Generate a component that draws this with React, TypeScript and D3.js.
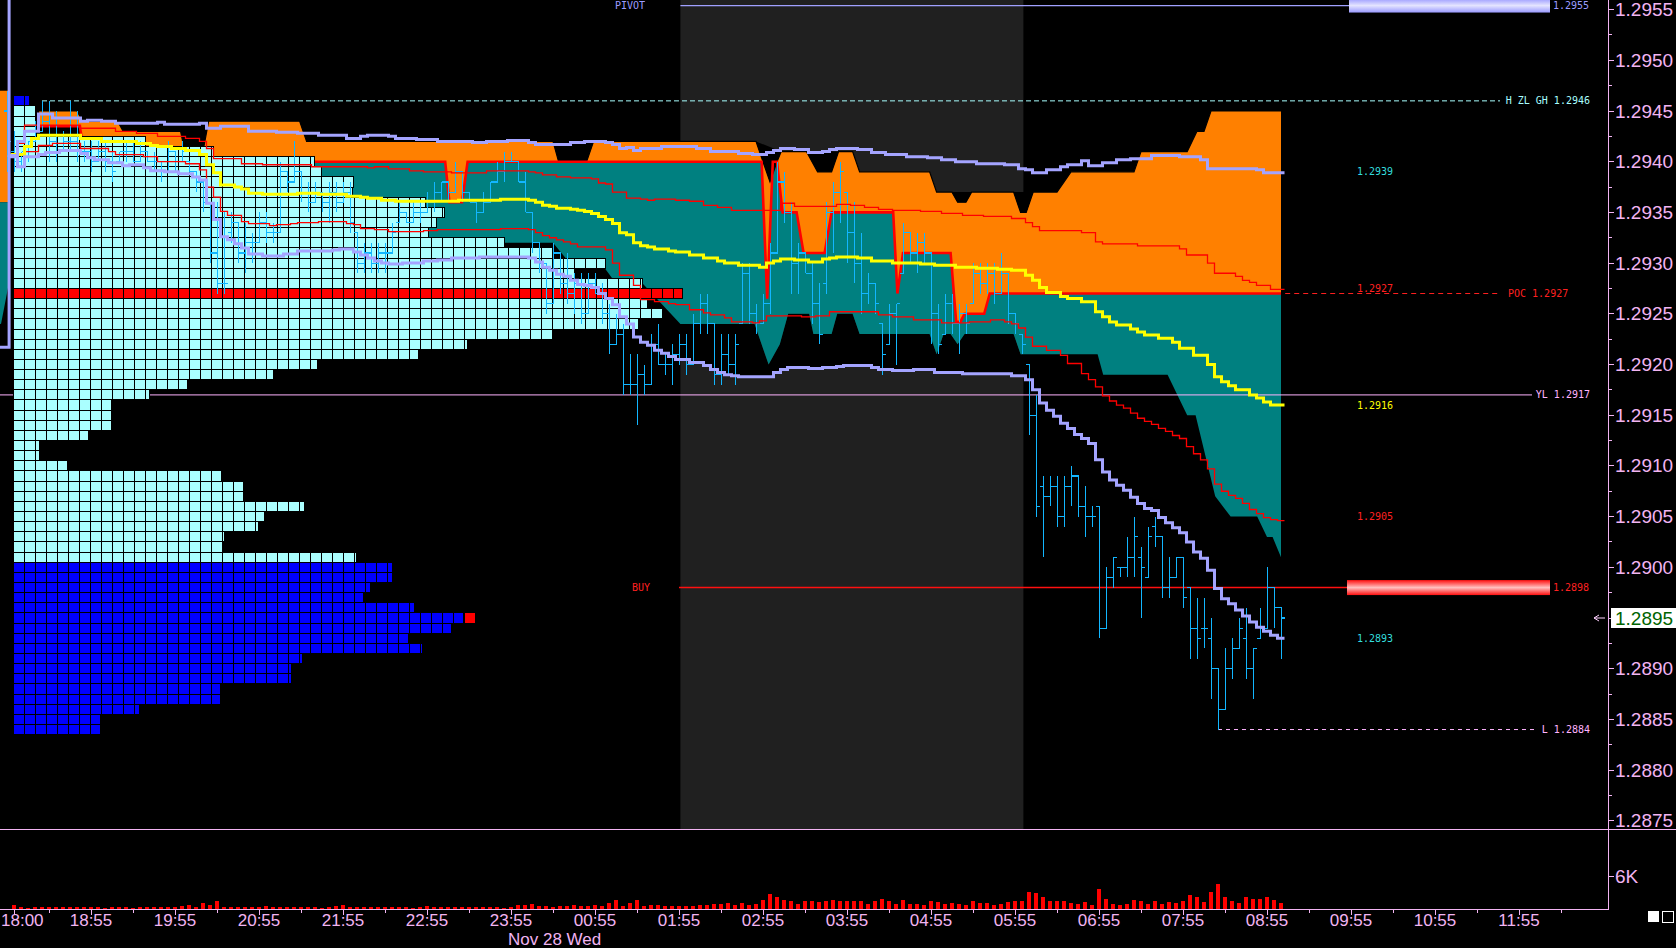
import * as d3 from "d3";

type Pt = [string, number];
type Bar = [string, number, number, number, number];

// ---------- values ----------
const priceTicks = ["1.2875", "1.2880", "1.2885", "1.2890", "1.2895", "1.2900", "1.2905", "1.2910", "1.2915",
  "1.2920", "1.2925", "1.2930", "1.2935", "1.2940", "1.2945", "1.2950", "1.2955"];
const timeTicks = ["18:00", "18:55", "19:55", "20:55", "21:55", "22:55", "23:55", "00:55", "01:55", "02:55",
  "03:55", "04:55", "05:55", "06:55", "07:55", "08:55", "09:55", "10:55", "11:55"];
const dateLabel = "Nov 28 Wed";
const session: [string, string] = ["01:56", "06:01"];

// TPO profile, one row per 0.0001 from 1.2946 down to 1.2884
const profileTop = 1.2946;
const profileTpo = [1.5, 2, 2, 2, 12, 18.2, 27.4, 28, 30.9, 30.8, 37.5, 39.2, 38.5, 37.7, 44.6, 49, 53.8, 51,
  57.2, 60.8, 57.6, 59, 56.8, 49.1, 41.3, 36.8, 27.6, 23.6, 15.8, 12.4, 8.9, 8.9, 8.9, 6.8, 2.4, 2.4, 4.9,
  18.9, 20.9, 20.9, 26.5, 22.8, 22.3, 19.2, 19.1, 31.2, 34.5, 34.5, 32.5, 31.8, 36.5, 40.9, 39.8, 35.9, 37.2,
  26.3, 25.3, 25.3, 18.8, 18.8, 11.5, 7.9, 7.9];
const profileBlueAtOrAbove = 1.2946;
const profileBlueAtOrBelow = 1.29;
const profilePoc = 1.2927;
const lastPrice = 1.2895;

// prior session stub at the left edge: [vah, poc, val]
const priorSpan: [string, string] = ["17:50", "17:57"];
const priorBand = [1.2947, 1.2936, 1.2924];

// developing value area
const vahPts: Pt[] = [["18:18", 1.2945], ["18:45", 1.2945], ["18:49", 1.2944], ["19:14", 1.2944], ["19:18", 1.2943],
  ["19:59", 1.2943], ["20:02", 1.2941], ["20:15", 1.2941], ["20:19", 1.2944], ["21:24", 1.2944], ["21:29", 1.2942],
  ["00:25", 1.2942], ["00:29", 1.294], ["00:49", 1.294], ["00:54", 1.2942], ["02:50", 1.2942], ["03:00", 1.2938],
  ["03:05", 1.294], ["03:08", 1.2941], ["03:26", 1.2941], ["03:34", 1.2939], ["03:44", 1.2939], ["03:49", 1.2941],
  ["03:59", 1.2941], ["04:04", 1.2939], ["04:54", 1.2939], ["04:59", 1.2937], ["05:10", 1.2937], ["05:14", 1.2936],
  ["05:20", 1.2936], ["05:24", 1.2937], ["05:54", 1.2937], ["05:59", 1.2935], ["06:03", 1.2935], ["06:08", 1.2937],
  ["06:25", 1.2937], ["06:35", 1.2939], ["07:20", 1.2939], ["07:25", 1.2941], ["07:58", 1.2941], ["08:05", 1.2943],
  ["08:10", 1.2943], ["08:15", 1.2945], ["09:05", 1.2945]];
const pocPts: Pt[] = [["18:18", 1.29435], ["18:47", 1.29435], ["18:50", 1.2941], ["20:15", 1.2941], ["20:19", 1.294],
  ["23:08", 1.294], ["23:11", 1.2936], ["23:20", 1.2936], ["23:24", 1.294], ["02:54", 1.294], ["02:58", 1.29265],
  ["03:02", 1.294], ["03:05", 1.294], ["03:09", 1.2935], ["03:19", 1.2935], ["03:24", 1.2931], ["03:39", 1.2931],
  ["03:44", 1.2935], ["04:28", 1.2935], ["04:31", 1.2927], ["04:35", 1.2931], ["05:09", 1.2931], ["05:13", 1.29242],
  ["05:16", 1.29242], ["05:19", 1.2925], ["05:33", 1.2925], ["05:37", 1.2927], ["09:05", 1.2927]];
const valPts: Pt[] = [["18:18", 1.29435], ["18:47", 1.29435], ["18:50", 1.2941], ["20:15", 1.2941], ["20:20", 1.2936],
  ["21:00", 1.2933], ["21:30", 1.2932], ["00:25", 1.2932], ["00:40", 1.29295], ["01:02", 1.29295], ["01:10", 1.2928],
  ["01:29", 1.2928], ["01:56", 1.2924], ["02:49", 1.2924], ["02:59", 1.292], ["03:07", 1.2922], ["03:13", 1.2925],
  ["03:28", 1.2925], ["03:31", 1.2923], ["03:44", 1.2923], ["03:48", 1.2925], ["03:59", 1.2925], ["04:04", 1.2923],
  ["04:54", 1.2923], ["04:59", 1.2921], ["05:04", 1.2923], ["05:09", 1.2923], ["05:14", 1.2922], ["05:19", 1.2923],
  ["05:54", 1.2923], ["05:59", 1.2921], ["06:54", 1.2921], ["06:58", 1.2919], ["07:44", 1.2919], ["07:58", 1.2915],
  ["08:04", 1.2915], ["08:18", 1.2907], ["08:29", 1.2905], ["08:48", 1.2905], ["08:55", 1.2903], ["08:59", 1.2903],
  ["09:05", 1.2901]];
// dips in the VAH that return (drawn black)
const vahDips: [string, string][] = [["02:50", "03:08"], ["03:26", "03:49"], ["05:10", "05:24"], ["05:54", "06:08"]];

// VWAP and bands (stepped, value per bar)
const upperBand2: Pt[] = [["17:50", 1.296], ["17:59", 1.29406], ["18:05", 1.2942], ["18:10", 1.2943], ["18:20", 1.29447],
  ["18:30", 1.29443], ["18:50", 1.2944], ["18:55", 1.29441], ["19:05", 1.2944], ["19:15", 1.29438], ["19:45", 1.29439],
  ["19:50", 1.29437], ["20:15", 1.29438], ["20:20", 1.29433], ["20:30", 1.29435], ["20:50", 1.2943], ["21:10", 1.29429],
  ["21:25", 1.29428], ["21:40", 1.29426], ["22:00", 1.29423], ["22:10", 1.29425], ["22:15", 1.29426], ["22:30", 1.29425],
  ["22:35", 1.29423], ["22:50", 1.29422], ["23:05", 1.2942], ["23:30", 1.29419], ["23:40", 1.2942], ["23:55", 1.29421],
  ["00:10", 1.29419], ["00:15", 1.29417], ["00:40", 1.29419], ["00:50", 1.2942], ["01:05", 1.29419], ["01:10", 1.29417],
  ["01:15", 1.29413], ["01:20", 1.29414], ["01:25", 1.29411], ["01:30", 1.29413], ["01:45", 1.29415], ["02:10", 1.29413],
  ["02:20", 1.2941], ["02:40", 1.29408], ["02:50", 1.29407], ["03:00", 1.29409], ["03:05", 1.29411], ["03:10", 1.29413],
  ["03:20", 1.29412], ["03:30", 1.29409], ["03:40", 1.2941], ["03:45", 1.29412], ["03:50", 1.29413], ["04:05", 1.29412],
  ["04:15", 1.29409], ["04:25", 1.29407], ["04:40", 1.29405], ["04:55", 1.29404], ["05:05", 1.29402], ["05:15", 1.294],
  ["05:30", 1.29398], ["05:50", 1.29397], ["06:00", 1.29393], ["06:05", 1.29392], ["06:10", 1.29389], ["06:20", 1.29392],
  ["06:30", 1.29395], ["06:35", 1.29397], ["06:45", 1.29401], ["06:50", 1.29396], ["07:00", 1.29399], ["07:10", 1.29402],
  ["07:20", 1.29403], ["07:35", 1.29406], ["07:55", 1.29405], ["08:10", 1.29402], ["08:15", 1.29393], ["08:35", 1.29393],
  ["08:50", 1.29392], ["08:55", 1.29389], ["09:10", 1.29389]];
const lowerBand2: Pt[] = [["17:50", 1.29217], ["17:59", 1.29405], ["18:05", 1.29395], ["18:10", 1.29405], ["18:20", 1.29407],
  ["18:25", 1.29409], ["18:35", 1.29411], ["18:50", 1.29408], ["18:55", 1.29404], ["19:00", 1.29402], ["19:10", 1.29399],
  ["19:20", 1.29396], ["19:25", 1.29397], ["19:35", 1.29394], ["19:40", 1.29391], ["19:50", 1.2939], ["20:00", 1.29388],
  ["20:10", 1.29385], ["20:15", 1.29382], ["20:20", 1.29359], ["20:25", 1.29343], ["20:30", 1.29326], ["20:35", 1.29323],
  ["20:40", 1.29319], ["20:45", 1.29315], ["20:50", 1.29309], ["21:00", 1.29307], ["21:15", 1.29309], ["21:25", 1.29312],
  ["21:50", 1.29313], ["21:55", 1.29314], ["22:05", 1.29311], ["22:10", 1.29308], ["22:15", 1.29305], ["22:20", 1.29302],
  ["22:25", 1.293], ["22:30", 1.29299], ["22:40", 1.293], ["22:55", 1.29302], ["23:05", 1.29303], ["23:15", 1.29305],
  ["23:35", 1.29306], ["00:10", 1.29305], ["00:15", 1.29301], ["00:20", 1.29296], ["00:25", 1.29293], ["00:30", 1.29289],
  ["00:35", 1.29287], ["00:40", 1.29283], ["00:45", 1.29279], ["00:50", 1.29278], ["00:55", 1.29276], ["01:00", 1.2927],
  ["01:05", 1.29265], ["01:10", 1.29259], ["01:15", 1.29247], ["01:20", 1.2924], ["01:25", 1.29227], ["01:30", 1.29222],
  ["01:35", 1.29219], ["01:40", 1.29214], ["01:45", 1.29211], ["01:50", 1.29208], ["01:55", 1.29205], ["02:05", 1.29202],
  ["02:15", 1.29199], ["02:20", 1.29195], ["02:25", 1.29192], ["02:30", 1.2919], ["02:35", 1.29189], ["02:40", 1.29188],
  ["03:05", 1.29192], ["03:10", 1.29195], ["03:15", 1.29197], ["03:30", 1.29196], ["03:40", 1.29197], ["03:50", 1.29198],
  ["03:55", 1.29199], ["04:15", 1.29197], ["04:20", 1.29195], ["04:30", 1.29194], ["04:45", 1.29195], ["05:00", 1.29192],
  ["05:20", 1.29191], ["05:55", 1.29189], ["06:05", 1.29185], ["06:10", 1.29175], ["06:15", 1.29162], ["06:20", 1.29155],
  ["06:25", 1.29149], ["06:30", 1.29142], ["06:35", 1.29137], ["06:40", 1.29131], ["06:45", 1.29127], ["06:50", 1.29122],
  ["06:55", 1.29106], ["07:00", 1.29094], ["07:05", 1.29086], ["07:10", 1.29081], ["07:15", 1.29076], ["07:20", 1.29069],
  ["07:25", 1.29063], ["07:30", 1.29058], ["07:35", 1.29056], ["07:40", 1.29049], ["07:45", 1.29044], ["07:50", 1.29039],
  ["07:55", 1.29034], ["08:00", 1.29025], ["08:05", 1.29015], ["08:10", 1.29009], ["08:15", 1.28997], ["08:20", 1.28979],
  ["08:25", 1.28969], ["08:30", 1.28964], ["08:35", 1.28958], ["08:40", 1.28952], ["08:45", 1.28946], ["08:50", 1.28941],
  ["08:55", 1.28937], ["09:00", 1.28933], ["09:05", 1.2893], ["09:10", 1.2893]];
const upperBand1: Pt[] = [["18:05", 1.29418], ["18:10", 1.29436], ["18:50", 1.29433], ["19:15", 1.2943], ["19:30", 1.29428],
  ["19:45", 1.29425], ["20:05", 1.29423], ["20:15", 1.2942], ["20:20", 1.29413], ["20:25", 1.29403], ["20:45", 1.29398],
  ["21:00", 1.29397], ["21:35", 1.29395], ["22:15", 1.29394], ["22:20", 1.29395], ["22:30", 1.29393], ["22:45", 1.29391],
  ["22:55", 1.2939], ["23:15", 1.29389], ["23:40", 1.29391], ["00:10", 1.2939], ["00:15", 1.29389], ["00:20", 1.29387],
  ["00:30", 1.29385], ["00:40", 1.29384], ["00:55", 1.29383], ["01:00", 1.29379], ["01:05", 1.29378], ["01:10", 1.2937],
  ["01:20", 1.29364], ["01:30", 1.29363], ["01:35", 1.29362], ["01:40", 1.29363], ["01:55", 1.29362], ["02:05", 1.29361],
  ["02:15", 1.29357], ["02:25", 1.29355], ["02:35", 1.29352], ["03:10", 1.29359], ["03:20", 1.29356], ["03:50", 1.29358],
  ["04:00", 1.29357], ["04:10", 1.29355], ["04:20", 1.29353], ["04:30", 1.29352], ["04:50", 1.29351], ["05:05", 1.29349],
  ["05:20", 1.29347], ["05:35", 1.29346], ["05:55", 1.29344], ["06:05", 1.2934], ["06:10", 1.29336], ["06:15", 1.29332],
  ["06:45", 1.2933], ["06:55", 1.29321], ["07:00", 1.29319], ["07:25", 1.29317], ["07:55", 1.29314], ["08:00", 1.29308],
  ["08:15", 1.293], ["08:20", 1.2929], ["08:35", 1.29287], ["08:40", 1.29283], ["08:45", 1.29281], ["08:50", 1.29278],
  ["09:00", 1.29274], ["09:10", 1.29274]];
const lowerBand1: Pt[] = [["18:10", 1.2941], ["18:20", 1.29416], ["18:30", 1.29418], ["18:50", 1.29413], ["19:10", 1.2941],
  ["19:15", 1.29407], ["19:35", 1.29405], ["19:45", 1.294], ["20:05", 1.29398], ["20:15", 1.29392], ["20:20", 1.29375],
  ["20:25", 1.29365], ["20:30", 1.29351], ["20:35", 1.29347], ["20:45", 1.29341], ["20:50", 1.29339], ["21:05", 1.29337],
  ["21:10", 1.29338], ["21:20", 1.29339], ["21:25", 1.2934], ["21:40", 1.29341], ["22:00", 1.29339], ["22:05", 1.29338],
  ["22:10", 1.29334], ["22:20", 1.29333], ["22:30", 1.29331], ["22:55", 1.29332], ["23:05", 1.29333], ["23:50", 1.29334],
  ["00:10", 1.29333], ["00:15", 1.2933], ["00:20", 1.29327], ["00:25", 1.29325], ["00:30", 1.29323], ["00:35", 1.29321],
  ["00:40", 1.29319], ["00:45", 1.29316], ["01:05", 1.29313], ["01:10", 1.293], ["01:15", 1.29288], ["01:25", 1.29278],
  ["01:30", 1.29264], ["01:40", 1.29262], ["01:50", 1.2926], ["01:55", 1.29259], ["02:05", 1.29254], ["02:15", 1.29251],
  ["02:20", 1.29249], ["02:30", 1.29246], ["02:35", 1.29242], ["02:50", 1.29241], ["02:55", 1.29243], ["03:00", 1.29248],
  ["03:25", 1.29247], ["03:35", 1.29248], ["03:45", 1.29252], ["04:20", 1.29249], ["04:30", 1.29247], ["04:45", 1.29244],
  ["05:05", 1.29241], ["05:25", 1.29242], ["05:40", 1.29244], ["05:50", 1.29242], ["05:55", 1.2924], ["06:00", 1.29236],
  ["06:05", 1.29227], ["06:10", 1.29218], ["06:20", 1.29214], ["06:30", 1.29209], ["06:35", 1.29201], ["06:45", 1.29191],
  ["06:50", 1.29185], ["06:55", 1.29178], ["07:00", 1.29169], ["07:05", 1.29164], ["07:10", 1.2916], ["07:15", 1.29157],
  ["07:20", 1.29152], ["07:25", 1.29147], ["07:30", 1.29144], ["07:35", 1.29141], ["07:40", 1.29137], ["07:45", 1.29134],
  ["07:50", 1.2913], ["07:55", 1.29127], ["08:00", 1.29119], ["08:05", 1.29112], ["08:10", 1.29106], ["08:15", 1.29097],
  ["08:20", 1.29082], ["08:25", 1.29075], ["08:30", 1.29071], ["08:35", 1.29068], ["08:40", 1.29063], ["08:45", 1.29057],
  ["08:50", 1.29053], ["08:55", 1.29049], ["09:00", 1.29047], ["09:05", 1.29046], ["09:10", 1.29046]];
const vwap: Pt[] = [["18:00", 1.29407], ["18:10", 1.29415], ["18:15", 1.29423], ["18:20", 1.29426], ["18:50", 1.29423],
  ["19:05", 1.2942], ["19:30", 1.29418], ["19:40", 1.29416], ["19:45", 1.29415], ["19:55", 1.29413], ["20:05", 1.29411],
  ["20:15", 1.29407], ["20:20", 1.29397], ["20:25", 1.29389], ["20:30", 1.29377], ["20:40", 1.29375], ["20:45", 1.29373],
  ["20:50", 1.29369], ["21:00", 1.29368], ["21:25", 1.29369], ["21:40", 1.29368], ["22:00", 1.29366], ["22:10", 1.29365],
  ["22:15", 1.29364], ["22:25", 1.29362], ["22:35", 1.29361], ["23:20", 1.29362], ["23:50", 1.29363], ["00:10", 1.29362],
  ["00:15", 1.2936], ["00:20", 1.29357], ["00:25", 1.29356], ["00:30", 1.29354], ["00:40", 1.29353], ["00:45", 1.29352],
  ["00:50", 1.29351], ["00:55", 1.29349], ["01:00", 1.29346], ["01:05", 1.29343], ["01:10", 1.29339], ["01:15", 1.2933],
  ["01:20", 1.29328], ["01:25", 1.2932], ["01:30", 1.29317], ["01:35", 1.29316], ["01:40", 1.29314], ["01:50", 1.29312],
  ["01:55", 1.29311], ["02:05", 1.29308], ["02:15", 1.29305], ["02:25", 1.29302], ["02:30", 1.293], ["02:40", 1.29298],
  ["02:55", 1.29296], ["03:00", 1.293], ["03:05", 1.29302], ["03:10", 1.29304], ["03:20", 1.29303], ["03:30", 1.29301],
  ["03:40", 1.29304], ["03:45", 1.29305], ["03:50", 1.29306], ["04:05", 1.29305], ["04:15", 1.29302], ["04:30", 1.293],
  ["04:50", 1.29299], ["05:00", 1.29298], ["05:15", 1.29296], ["05:30", 1.29295], ["05:45", 1.29294], ["05:55", 1.29293],
  ["06:05", 1.29288], ["06:10", 1.29283], ["06:15", 1.29276], ["06:20", 1.29271], ["06:30", 1.29267], ["06:35", 1.29265],
  ["06:45", 1.29262], ["06:55", 1.29252], ["07:00", 1.29247], ["07:05", 1.29242], ["07:10", 1.29239], ["07:20", 1.29235],
  ["07:25", 1.29232], ["07:30", 1.29229], ["07:40", 1.29226], ["07:50", 1.29222], ["07:55", 1.29216], ["08:05", 1.29209],
  ["08:15", 1.292], ["08:20", 1.29188], ["08:25", 1.29183], ["08:30", 1.29179], ["08:35", 1.29175], ["08:45", 1.2917],
  ["08:50", 1.29167], ["08:55", 1.29163], ["09:00", 1.2916], ["09:10", 1.2916]];

// 5-minute bars: time, open, high, low, close
const ohlc: Bar[] = [
  ["17:55", 1.2945, 1.2947, 1.2939, 1.2942], ["18:00", 1.2941, 1.2943, 1.2939, 1.294], ["18:05", 1.294, 1.2941, 1.2939, 1.2941],
  ["18:10", 1.2941, 1.2942, 1.294, 1.2942], ["18:15", 1.2942, 1.2944, 1.2942, 1.2943], ["18:20", 1.2943, 1.2946, 1.2943, 1.2944],
  ["18:25", 1.2944, 1.2946, 1.294, 1.2942], ["18:30", 1.2942, 1.2945, 1.294, 1.2941], ["18:35", 1.2941, 1.2943, 1.2941, 1.2942],
  ["18:40", 1.2942, 1.2946, 1.2941, 1.2942], ["18:45", 1.2942, 1.2945, 1.294, 1.2941], ["18:50", 1.2941, 1.2942, 1.294, 1.2941],
  ["18:55", 1.2941, 1.2942, 1.2939, 1.294], ["19:00", 1.294, 1.2942, 1.294, 1.2941], ["19:05", 1.2941, 1.2942, 1.2939, 1.294],
  ["19:10", 1.294, 1.2941, 1.2938, 1.2939], ["19:15", 1.294, 1.2941, 1.294, 1.2941], ["19:20", 1.2941, 1.2942, 1.294, 1.2941],
  ["19:25", 1.2941, 1.2942, 1.294, 1.294], ["19:30", 1.294, 1.2942, 1.294, 1.2941], ["19:35", 1.2941, 1.2941, 1.294, 1.294],
  ["19:40", 1.294, 1.2941, 1.2939, 1.294], ["19:45", 1.294, 1.294, 1.2938, 1.2939], ["19:50", 1.2939, 1.2942, 1.2939, 1.2941],
  ["19:55", 1.2941, 1.2941, 1.2939, 1.294], ["20:00", 1.294, 1.2942, 1.294, 1.2941], ["20:05", 1.294, 1.294, 1.2939, 1.2939],
  ["20:10", 1.2939, 1.2939, 1.2937, 1.2938], ["20:15", 1.2938, 1.2938, 1.2935, 1.2936], ["20:20", 1.2936, 1.2936, 1.293, 1.2931],
  ["20:25", 1.2931, 1.2936, 1.2927, 1.2928], ["20:30", 1.2928, 1.2935, 1.2927, 1.2928], ["20:35", 1.2933, 1.2935, 1.2932, 1.2934],
  ["20:40", 1.2934, 1.2934, 1.293, 1.2931], ["20:45", 1.2931, 1.2934, 1.2929, 1.2932], ["20:50", 1.2932, 1.2933, 1.293, 1.2932],
  ["20:55", 1.2932, 1.2935, 1.2932, 1.2934], ["21:00", 1.2934, 1.2935, 1.2932, 1.2933], ["21:05", 1.2933, 1.2934, 1.2932, 1.2933],
  ["21:10", 1.2933, 1.294, 1.2933, 1.2939], ["21:15", 1.2939, 1.2939, 1.2937, 1.2938], ["21:20", 1.2938, 1.2942, 1.2938, 1.2939],
  ["21:25", 1.2939, 1.2939, 1.2936, 1.2937], ["21:30", 1.2937, 1.2938, 1.2935, 1.2936], ["21:35", 1.2936, 1.2938, 1.2936, 1.2937],
  ["21:40", 1.2937, 1.2937, 1.2935, 1.2936], ["21:45", 1.2936, 1.2938, 1.2934, 1.2937], ["21:50", 1.2937, 1.2938, 1.2935, 1.2936],
  ["21:55", 1.2936, 1.2938, 1.2936, 1.2937], ["22:00", 1.2937, 1.2938, 1.2933, 1.2934], ["22:05", 1.2933, 1.2933, 1.2929, 1.293],
  ["22:10", 1.293, 1.2932, 1.2929, 1.2931], ["22:15", 1.2931, 1.2932, 1.2929, 1.293], ["22:20", 1.293, 1.2932, 1.2929, 1.2931],
  ["22:25", 1.2931, 1.2932, 1.2929, 1.2931], ["22:30", 1.2931, 1.2934, 1.2931, 1.2933], ["22:35", 1.2934, 1.2936, 1.2934, 1.2935],
  ["22:40", 1.2935, 1.2935, 1.2934, 1.2934], ["22:45", 1.2934, 1.2936, 1.2934, 1.2935], ["22:50", 1.2935, 1.2936, 1.2934, 1.2935],
  ["22:55", 1.2935, 1.2937, 1.2935, 1.2936], ["23:00", 1.2936, 1.2938, 1.2935, 1.2937], ["23:05", 1.2937, 1.2938, 1.2936, 1.2938],
  ["23:10", 1.2938, 1.2938, 1.2936, 1.2937], ["23:15", 1.2937, 1.294, 1.2937, 1.2939], ["23:20", 1.2939, 1.2939, 1.2936, 1.2937],
  ["23:25", 1.2937, 1.2937, 1.2936, 1.2936], ["23:30", 1.2936, 1.2936, 1.2934, 1.2935], ["23:35", 1.2935, 1.2937, 1.2935, 1.2936],
  ["23:40", 1.2936, 1.2938, 1.2936, 1.2938], ["23:45", 1.2938, 1.294, 1.2938, 1.2939], ["23:50", 1.2939, 1.2941, 1.2938, 1.294],
  ["23:55", 1.294, 1.2941, 1.294, 1.294], ["00:00", 1.294, 1.294, 1.2938, 1.2938], ["00:05", 1.2938, 1.2939, 1.2935, 1.2935],
  ["00:10", 1.2935, 1.2935, 1.2931, 1.2932], ["00:15", 1.2932, 1.2932, 1.2929, 1.293], ["00:20", 1.293, 1.293, 1.2925, 1.2926],
  ["00:25", 1.2926, 1.2932, 1.2926, 1.2931], ["00:30", 1.2931, 1.2931, 1.2927, 1.2928], ["00:35", 1.2928, 1.2931, 1.2926, 1.2927],
  ["00:40", 1.2927, 1.2929, 1.2925, 1.2928], ["00:45", 1.2928, 1.2929, 1.2924, 1.2925], ["00:50", 1.2925, 1.2929, 1.2925, 1.2928],
  ["00:55", 1.2928, 1.2929, 1.2927, 1.2927], ["01:00", 1.2927, 1.2928, 1.2924, 1.2925], ["01:05", 1.2925, 1.2926, 1.2921, 1.2922],
  ["01:10", 1.2922, 1.2925, 1.2922, 1.2923], ["01:15", 1.2923, 1.2924, 1.2917, 1.2918], ["01:20", 1.2918, 1.2921, 1.2917, 1.2918],
  ["01:25", 1.2918, 1.2921, 1.2914, 1.2919], ["01:30", 1.2919, 1.292, 1.2917, 1.2918], ["01:35", 1.2918, 1.2923, 1.2918, 1.2922],
  ["01:40", 1.2922, 1.2924, 1.292, 1.292], ["01:45", 1.292, 1.2921, 1.2919, 1.292], ["01:50", 1.292, 1.2922, 1.2918, 1.2921],
  ["01:55", 1.2921, 1.2923, 1.292, 1.2922], ["02:00", 1.2922, 1.2923, 1.2919, 1.292], ["02:05", 1.292, 1.2925, 1.292, 1.2924],
  ["02:10", 1.2924, 1.2927, 1.2923, 1.2926], ["02:15", 1.2926, 1.2927, 1.2923, 1.2924], ["02:20", 1.2924, 1.2924, 1.2918, 1.2919],
  ["02:25", 1.2919, 1.2923, 1.2918, 1.2921], ["02:30", 1.2921, 1.2923, 1.2919, 1.292], ["02:35", 1.292, 1.2923, 1.2918, 1.2922],
  ["02:40", 1.2924, 1.293, 1.2924, 1.2929], ["02:45", 1.2929, 1.293, 1.2924, 1.2925], ["02:50", 1.2925, 1.2926, 1.2923, 1.2924],
  ["02:55", 1.2924, 1.2927, 1.2924, 1.2926], ["03:00", 1.2926, 1.2932, 1.2925, 1.2931], ["03:05", 1.2931, 1.294, 1.2931, 1.2938],
  ["03:10", 1.2938, 1.2939, 1.2934, 1.2935], ["03:15", 1.2935, 1.2936, 1.2927, 1.293], ["03:20", 1.293, 1.2932, 1.2927, 1.2931],
  ["03:25", 1.2931, 1.2931, 1.2929, 1.2929], ["03:30", 1.2929, 1.293, 1.2924, 1.2926], ["03:35", 1.2926, 1.2928, 1.2922, 1.2923],
  ["03:40", 1.2928, 1.2936, 1.2927, 1.2935], ["03:45", 1.2935, 1.2938, 1.2931, 1.2937], ["03:50", 1.2937, 1.294, 1.2934, 1.2939],
  ["03:55", 1.2937, 1.2937, 1.293, 1.2933], ["04:00", 1.2933, 1.2936, 1.2928, 1.293], ["04:05", 1.293, 1.2933, 1.2925, 1.2927],
  ["04:10", 1.2927, 1.2929, 1.2926, 1.2928], ["04:15", 1.2928, 1.2928, 1.2925, 1.2926], ["04:20", 1.2924, 1.2924, 1.2919, 1.2921],
  ["04:25", 1.2922, 1.2926, 1.2922, 1.2925], ["04:30", 1.2925, 1.2926, 1.292, 1.2926], ["04:35", 1.2929, 1.2934, 1.2929, 1.2933],
  ["04:40", 1.2933, 1.2933, 1.293, 1.2931], ["04:45", 1.2931, 1.2933, 1.2929, 1.2932], ["04:50", 1.2932, 1.2933, 1.293, 1.2931],
  ["04:55", 1.2931, 1.2931, 1.2922, 1.2925], ["05:00", 1.2925, 1.2926, 1.2921, 1.2922], ["05:05", 1.2923, 1.2927, 1.2923, 1.2926],
  ["05:10", 1.2926, 1.2927, 1.2923, 1.2924], ["05:15", 1.2924, 1.2926, 1.2921, 1.2925], ["05:20", 1.2925, 1.2926, 1.2923, 1.2924],
  ["05:25", 1.2926, 1.293, 1.2926, 1.2929], ["05:30", 1.2929, 1.293, 1.2927, 1.2928], ["05:35", 1.2928, 1.293, 1.2927, 1.2929],
  ["05:40", 1.2929, 1.293, 1.2926, 1.2927], ["05:45", 1.2927, 1.2931, 1.2927, 1.2929], ["05:50", 1.2929, 1.2929, 1.2924, 1.2925],
  ["05:55", 1.2925, 1.2925, 1.2923, 1.2924], ["06:00", 1.2923, 1.2923, 1.2921, 1.2922], ["06:05", 1.292, 1.292, 1.2913, 1.2915],
  ["06:10", 1.2915, 1.2917, 1.2905, 1.2906], ["06:15", 1.2908, 1.2909, 1.2901, 1.2907], ["06:20", 1.2907, 1.2909, 1.2906, 1.2908],
  ["06:25", 1.2908, 1.2909, 1.2904, 1.2905], ["06:30", 1.2905, 1.2909, 1.2904, 1.2908], ["06:35", 1.2908, 1.291, 1.2906, 1.2909],
  ["06:40", 1.2909, 1.2909, 1.2905, 1.2906], ["06:45", 1.2906, 1.2908, 1.2903, 1.2905], ["06:50", 1.2905, 1.2906, 1.2904, 1.2905],
  ["06:55", 1.2906, 1.2906, 1.2893, 1.2894], ["07:00", 1.2894, 1.29, 1.2894, 1.2899], ["07:05", 1.2899, 1.2901, 1.2898, 1.2901],
  ["07:10", 1.29, 1.29, 1.2899, 1.29], ["07:15", 1.29, 1.2903, 1.2899, 1.2901], ["07:20", 1.2901, 1.2905, 1.2899, 1.2903],
  ["07:25", 1.2901, 1.2902, 1.2895, 1.29], ["07:30", 1.2899, 1.2904, 1.2899, 1.2903], ["07:35", 1.2904, 1.2905, 1.2902, 1.2903],
  ["07:40", 1.2903, 1.2903, 1.2897, 1.2898], ["07:45", 1.2898, 1.2901, 1.2897, 1.2899], ["07:50", 1.2899, 1.2901, 1.2899, 1.2901],
  ["07:55", 1.2901, 1.2901, 1.2896, 1.2897], ["08:00", 1.2898, 1.2898, 1.2891, 1.2894], ["08:05", 1.2894, 1.2897, 1.2891, 1.2893],
  ["08:10", 1.2894, 1.2897, 1.2892, 1.2894], ["08:15", 1.2893, 1.2895, 1.2887, 1.289], ["08:20", 1.289, 1.289, 1.2884, 1.2886],
  ["08:25", 1.2886, 1.2892, 1.2886, 1.289], ["08:30", 1.289, 1.2893, 1.2889, 1.2892], ["08:35", 1.2892, 1.2895, 1.2892, 1.2894],
  ["08:40", 1.2893, 1.2896, 1.2889, 1.289], ["08:45", 1.289, 1.2892, 1.2887, 1.2892], ["08:50", 1.2893, 1.2896, 1.2893, 1.2894],
  ["08:55", 1.2894, 1.29, 1.2894, 1.2898], ["09:00", 1.2898, 1.2898, 1.2894, 1.2896], ["09:05", 1.2896, 1.2896, 1.2891, 1.2895]];

// volume per 5-minute bar starting 18:00
const volumeStart = "18:00";
const volume = [
  800, 350, 150, 350, 450, 350, 300, 300, 300, 300, 300, 300,
  300, 150, 300, 300, 350, 250, 300, 450, 450, 350, 300, 350,
  500, 700, 450, 1200, 800, 1400, 350, 450, 450, 450, 300, 300,
  550, 300, 300, 300, 300, 300, 300, 300, 250, 300, 650, 750,
  300, 300, 300, 300, 300, 300, 300, 400, 300, 250, 300, 500,
  300, 300, 300, 300, 300, 300, 300, 450, 300, 300, 250, 350,
  700, 700, 950, 550, 550, 400, 550, 550, 700, 500, 600, 700,
  600, 1100, 1700, 650, 1100, 1600, 550, 700, 750, 550, 550, 600,
  550, 650, 750, 800, 1000, 900, 1200, 700, 1050, 700, 1000, 1600,
  2800, 2300, 1600, 1550, 900, 1550, 1550, 1250, 1400, 1700, 1400, 1400,
  1400, 1550, 950, 1400, 1900, 1550, 950, 1700, 1000, 1000, 700, 1550,
  1250, 1000, 1100, 1000, 800, 1550, 1100, 1100, 800, 1000, 1250, 1400,
  1400, 3100, 3000, 2200, 1400, 1400, 1400, 1100, 900, 1250, 700, 3750,
  1900, 1000, 700, 1000, 1600, 1400, 1000, 1400, 1000, 1300, 1200, 1500,
  2650, 2200, 1300, 3100, 4650, 2150, 1530, 1100, 2150, 1900, 1900, 2150,
  1700, 1100];
const volumeTick = 6000;

// reference levels
const pivot = 1.29554;
const highLevel = { price: 1.2946, from: "18:20", text: "H ZL GH 1.2946" };
const yesterdayLow = { price: 1.2917, text: "YL 1.2917" };
const sessionLow = { price: 1.2884, from: "08:20", text: "L 1.2884" };
const pocLine = { price: 1.2927, from: "09:08", text: "POC 1.2927" };
const buyLevel = 1.2898;
const endLabels: [string, number, string][] = [
  ["1.2939", 1.2939, "#33dddd"], ["1.2927", 1.29275, "#ff2020"], ["1.2916", 1.2916, "#ffff00"],
  ["1.2905", 1.2905, "#ff2020"], ["1.2893", 1.2893, "#33dddd"]];

// ---------- helpers ----------
const T = (s: string) => {
  const [h, m] = s.split(":").map(Number);
  return new Date(2018, 10, h >= 17 ? 27 : 28, h, m);
};

const AXIS = "#f2b4f2";
const MONO = "'DejaVu Sans Mono', monospace";
const SANS = "'Liberation Sans', Arial, sans-serif";

export default function App() {
  const x = d3.scaleTime().domain([T("18:00"), T("12:59")]).range([14, 14 + 1139 * 1.4]);
  const y = d3.scaleLinear().domain([1.2875, 1.2955]).range([820.8, 9.6]);
  const vy = d3.scaleLinear().domain([0, 6000]).range([909, 876.7]);
  const tpo = d3.scaleLinear().domain([0, 1]).range([13.4, 24.4]);
  const X = (s: string) => x(T(s));
  const axisX = 1608.5;

  const lin = d3.line<Pt>().x((d) => X(d[0])).y((d) => y(d[1]));
  const step = d3.line<Pt>().x((d) => X(d[0]) - 3.5).y((d) => y(d[1])).curve(d3.curveStepAfter);

  const pts = (s: Pt[]) => s.map((d) => [X(d[0]), y(d[1])] as [number, number]);
  const stepPts = (s: Pt[]) =>
    s.flatMap((d, i) => {
      const a: [number, number] = [X(d[0]) - 3.5, y(d[1])];
      return i < s.length - 1 ? [a, [X(s[i + 1][0]) - 3.5, y(d[1])] as [number, number]] : [a];
    });
  const poly = (top: [number, number][], bottom: [number, number][]) =>
    "M" + [...top, ...bottom.slice().reverse()].map((p) => p[0].toFixed(2) + "," + p[1].toFixed(2)).join("L") + "Z";

  const orangePath = poly(pts(vahPts), pts(pocPts));
  const tealPath = poly(pts(pocPts), pts(valPts));
  const belowValPath = poly(pts(valPts), stepPts(lowerBand2));
  const dipPaths = vahDips.map(([s, e]) =>
    lin(vahPts.filter((d) => T(d[0]) >= T(s) && T(d[0]) <= T(e)))! + "Z");

  const minorTicks = d3.range(0, 33).map((i) => 1.2875 + i * 0.00025);
  const halfHours = d3.range(0, 19).map((i) => d3.timeMinute.offset(T("18:25"), i * 60));

  const rowH = y(1.2) - y(1.2001);

  return (
    <svg width={1676} height={948} style={{ position: "fixed", left: 0, top: 0, background: "#000" }}>
      <defs>
        <linearGradient id="pivotGrad" x1="0" y1="0" x2="0" y2="1">
          <stop offset="0" stopColor="#9a9aff" />
          <stop offset="0.5" stopColor="#e4e4ff" />
          <stop offset="1" stopColor="#9a9aff" />
        </linearGradient>
        <linearGradient id="buyGrad" x1="0" y1="0" x2="0" y2="1">
          <stop offset="0" stopColor="#ff1010" />
          <stop offset="0.5" stopColor="#ffc0c0" />
          <stop offset="1" stopColor="#ff1010" />
        </linearGradient>
        <clipPath id="mainClip">
          <rect x={0} y={0} width={axisX} height={829} />
        </clipPath>
      </defs>
      <rect x={0} y={0} width={1676} height={948} fill="#000" />

      <g clipPath="url(#mainClip)">
        {/* session shading */}
        <rect x={X(session[0])} y={0} width={X(session[1]) - X(session[0])} height={829} fill="#202020" />

        {/* prior session stub */}
        <rect x={X(priorSpan[0])} y={y(priorBand[0])} width={X(priorSpan[1]) - X(priorSpan[0])}
          height={y(priorBand[1]) - y(priorBand[0])} fill="#ff8000" />
        <rect x={X(priorSpan[0])} y={y(priorBand[1])} width={X(priorSpan[1]) - X(priorSpan[0])}
          height={y(priorBand[2]) - y(priorBand[1])} fill="#008080" />

        {/* value area bands */}
        <path d={belowValPath} fill="#000" />
        <path d={orangePath} fill="#ff8000" />
        <path d={tealPath} fill="#008080" />
        {dipPaths.map((d, i) => <path key={i} d={d} fill="#000" />)}
        <path d={lin(vahPts)!} fill="none" stroke="#000" strokeWidth={1.2} />
        <path d={lin(pocPts)!} fill="none" stroke="#ff0000" strokeWidth={2.6} />

        {/* reference lines */}
        <line x1={X(highLevel.from)} x2={1500} y1={y(highLevel.price)} y2={y(highLevel.price)}
          stroke="#a8ffff" strokeWidth={1} strokeDasharray="5,3" />
        <line x1={0} x2={1532} y1={y(yesterdayLow.price)} y2={y(yesterdayLow.price)} stroke="#ffb4ff" strokeWidth={1} />

        {/* TPO profile */}
        <g shapeRendering="crispEdges">
          {profileTpo.map((w, i) => {
            const p = +(profileTop - i * 0.0001).toFixed(4);
            const fill = p === profilePoc ? "#ff0000"
              : p >= profileBlueAtOrAbove || p <= profileBlueAtOrBelow ? "#0000ff" : "#aaffff";
            const top = y(p) - rowH / 2;
            const cells = d3.range(Math.ceil(w)).map((j) => (
              <rect key={j} x={tpo(j)} y={top} width={tpo(Math.min(j + 1, w)) - tpo(j)} height={rowH}
                fill={fill} stroke="#000" strokeWidth={1} />
            ));
            if (p === lastPrice) {
              const j = Math.ceil(w);
              cells.push(<rect key="m" x={tpo(j)} y={top} width={tpo(j + 1) - tpo(j)} height={rowH}
                fill="#ff0000" stroke="#000" strokeWidth={1} />);
            }
            return <g key={i}>{cells}</g>;
          })}
        </g>

        {/* more reference lines */}
        <line x1={X(session[0])} x2={1349} y1={y(pivot)} y2={y(pivot)} stroke="#a0a0ff" strokeWidth={1.2} />
        <rect x={1349} y={y(pivot) - 7} width={201} height={14} fill="url(#pivotGrad)" />
        <line x1={X("01:55")} x2={1347} y1={y(buyLevel)} y2={y(buyLevel)} stroke="#ff1010" strokeWidth={1.5} />
        <rect x={1347} y={y(buyLevel) - 7.5} width={203} height={15} fill="url(#buyGrad)" />
        <line x1={X(sessionLow.from)} x2={1537} y1={y(sessionLow.price)} y2={y(sessionLow.price)}
          stroke="#ffb4ff" strokeWidth={1} strokeDasharray="4,4" />
        <line x1={X(pocLine.from)} x2={1500} y1={y(pocLine.price)} y2={y(pocLine.price)}
          stroke="#ff2020" strokeWidth={1} strokeDasharray="5,4" />

        {/* OHLC bars */}
        <g stroke="#12b6ff" strokeWidth={1.1} shapeRendering="crispEdges">
          {ohlc.map(([t, o, h, l, c]) => {
            const bx = Math.round(X(t)) + 0.5;
            return (
              <g key={t}>
                <line x1={bx} x2={bx} y1={y(h)} y2={y(l)} />
                <line x1={bx - 3.5} x2={bx} y1={y(o)} y2={y(o)} />
                <line x1={bx} x2={bx + 3.5} y1={y(c)} y2={y(c)} />
              </g>
            );
          })}
        </g>

        {/* VWAP and bands */}
        <path d={step(upperBand1)!} fill="none" stroke="#ff0000" strokeWidth={1.3} />
        <path d={step(lowerBand1)!} fill="none" stroke="#ff0000" strokeWidth={1.3} />
        <path d={step(vwap)!} fill="none" stroke="#ffff00" strokeWidth={3} />
        <path d={step(upperBand2)!} fill="none" stroke="#a4a4ff" strokeWidth={3} />
        <path d={step(lowerBand2)!} fill="none" stroke="#a4a4ff" strokeWidth={3} />
      </g>

      {/* labels in the plot */}
      <g fontFamily={MONO} fontSize={10} dominantBaseline="central">
        <text x={615} y={y(pivot)} fill="#9c9cff">PIVOT</text>
        <text x={1553} y={y(pivot)} fill="#9c9cff">1.2955</text>
        <text x={632} y={y(buyLevel)} fill="#ff2020">BUY</text>
        <text x={1553} y={y(buyLevel)} fill="#ff2020">1.2898</text>
        <text x={1590} y={y(highLevel.price)} fill="#a8ffff" textAnchor="end">{highLevel.text}</text>
        <text x={1508} y={y(pocLine.price)} fill="#ff2020">{pocLine.text}</text>
        <text x={1590} y={y(yesterdayLow.price)} fill="#ffb4ff" textAnchor="end">{yesterdayLow.text}</text>
        <text x={1590} y={y(sessionLow.price)} fill="#ffb4ff" textAnchor="end">{sessionLow.text}</text>
        {endLabels.map(([s, p, col]) => (
          <text key={s + p} x={1357} y={y(p)} fill={col}>{s}</text>
        ))}
      </g>

      {/* volume */}
      <g fill="#ff0000" shapeRendering="crispEdges">
        {volume.map((v, i) => {
          const bx = x(d3.timeMinute.offset(T(volumeStart), i * 5));
          return <rect key={i} x={bx - 2} y={vy(v)} width={4} height={vy(0) - vy(v)} />;
        })}
      </g>

      {/* frame */}
      <g stroke={AXIS} strokeWidth={1} shapeRendering="crispEdges">
        <line x1={0} x2={1676} y1={829.5} y2={829.5} />
        <line x1={0} x2={axisX} y1={909.5} y2={909.5} />
        <line x1={axisX} x2={axisX} y1={0} y2={910} />
        {minorTicks.map((p, i) => (
          <line key={i} x1={axisX} x2={axisX + (i % 2 === 0 ? 5 : 3)} y1={y(p)} y2={y(p)} />
        ))}
        <line x1={axisX} x2={axisX + 5} y1={vy(volumeTick)} y2={vy(volumeTick)} />
        {timeTicks.map((t) => (
          <line key={t} x1={X(t)} x2={X(t)} y1={910} y2={915} />
        ))}
        {halfHours.map((d, i) => (
          <line key={i} x1={x(d)} x2={x(d)} y1={910} y2={913} />
        ))}
      </g>

      {/* price axis labels */}
      <g fontFamily={SANS} fontSize={19} fill={AXIS} dominantBaseline="central">
        {priceTicks.map((s) => (
          <text key={s} x={1615} y={y(+s)}>{s}</text>
        ))}
        <text x={1615} y={vy(volumeTick)}>6K</text>
      </g>

      {/* last price marker */}
      <rect x={1611} y={y(lastPrice) - 10} width={65} height={20} fill="#ffffff" />
      <text x={1615} y={y(lastPrice)} fontFamily={SANS} fontSize={19} fill="#006400" dominantBaseline="central">
        {lastPrice.toFixed(4)}
      </text>
      <path d={`M1594,${y(lastPrice)}L1605,${y(lastPrice)}M1594,${y(lastPrice)}L1599,${y(lastPrice) - 3}M1594,${y(lastPrice)}L1599,${y(lastPrice) + 3}`}
        stroke="#ffd0ff" strokeWidth={1} fill="none" />

      {/* time axis labels (first one kept inside the left edge) */}
      <g fontFamily={SANS} fontSize={17} fill={AXIS} dominantBaseline="central">
        {timeTicks.map((t, i) => (
          <text key={t} x={i === 0 ? 1 : X(t)} y={920} textAnchor={i === 0 ? "start" : "middle"}>{t}</text>
        ))}
      </g>
      <text x={X("23:55") - 3} y={939} fontFamily={SANS} fontSize={17} fill={AXIS} dominantBaseline="central">
        {dateLabel}
      </text>

      {/* corner boxes */}
      <rect x={1648} y={911} width={11} height={11} fill="#ffffff" />
      <rect x={1662.5} y={911.5} width={11} height={11} fill="none" stroke="#ffffff" />
    </svg>
  );
}
